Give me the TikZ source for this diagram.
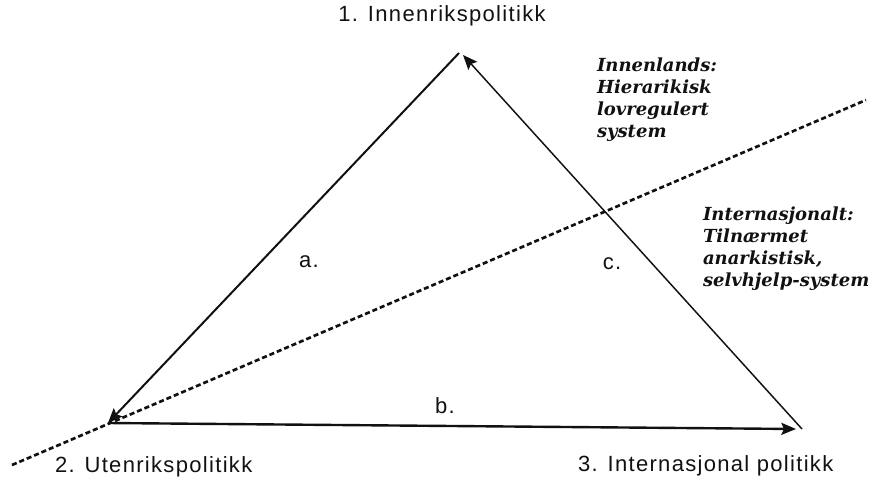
\documentclass[tikz,border=0pt]{standalone}
\usepackage{fontspec}
\setmainfont{Liberation Sans}
\newfontfamily\labelfont[LetterSpace=6]{Liberation Sans}
\newfontfamily\notefont{DejaVu Serif}
\usetikzlibrary{arrows.meta}
\definecolor{inkBlack}{HTML}{111111}
\tikzset{
  policy diagram/.style={
    draw=inkBlack, line width=1.5pt,
    every node/.style={text=inkBlack, inner sep=0pt, outer sep=0pt}
  },
  side arrow/.style={-{Stealth[length=11pt,width=9pt,inset=2pt]}},
  policy label/.style={font=\labelfont\fontsize{16.5}{19}\selectfont},
  policy note/.style={font=\notefont\bfseries\itshape\fontsize{13.5}{16.5}\selectfont,
    align=left, anchor=north west},
  policy border/.style={draw=inkBlack, line width=2pt,
    dash pattern=on 3.8pt off 2.2pt}
}
\begin{document}
\begin{tikzpicture}[policy diagram,x=0.75pt,y=-0.75pt]
    \useasboundingbox (0,0) rectangle (873,477);
    % corners of the triangle
    \coordinate (top) at (459,53);
    \coordinate (left) at (108,423);
    \coordinate (right) at (802,429);
    \coordinate (topTip) at (463,55);
    \coordinate (rightTip) at (796,429);
    \coordinate (borderA) at (12,465);
    \coordinate (borderB) at (866,100);
    % sides
    \draw[side arrow] (top) -- (left);
    \draw[side arrow,line width=1.8pt] (left) -- (rightTip);
    \draw[side arrow,line width=1.1pt] (right) -- (topTip);
    \draw[policy border] (borderA) -- (borderB);
    % labels
    \node[policy label] (innen) at (442,16) {1. Innenrikspolitikk};
    \node[policy label,anchor=west] (uten) at (55,467) {2. Utenrikspolitikk};
    \node[policy label,anchor=west] (inter) at (578,466) {3. Internasjonal politikk};
    \node[policy label] (sideA) at (309,262) {a.};
    \node[policy label] (sideB) at (445,406) {b.};
    \node[policy label] (sideC) at (612,264) {c.};
    \node[policy note] (innenlands) at (597,58)
      {Innenlands:\\Hierarikisk\\lovregulert\\system};
    \node[policy note] (internasjonalt) at (703,207)
      {Internasjonalt:\\Tilnærmet\\anarkistisk,\\selvhjelp-system};
  \end{tikzpicture}
\end{document}
